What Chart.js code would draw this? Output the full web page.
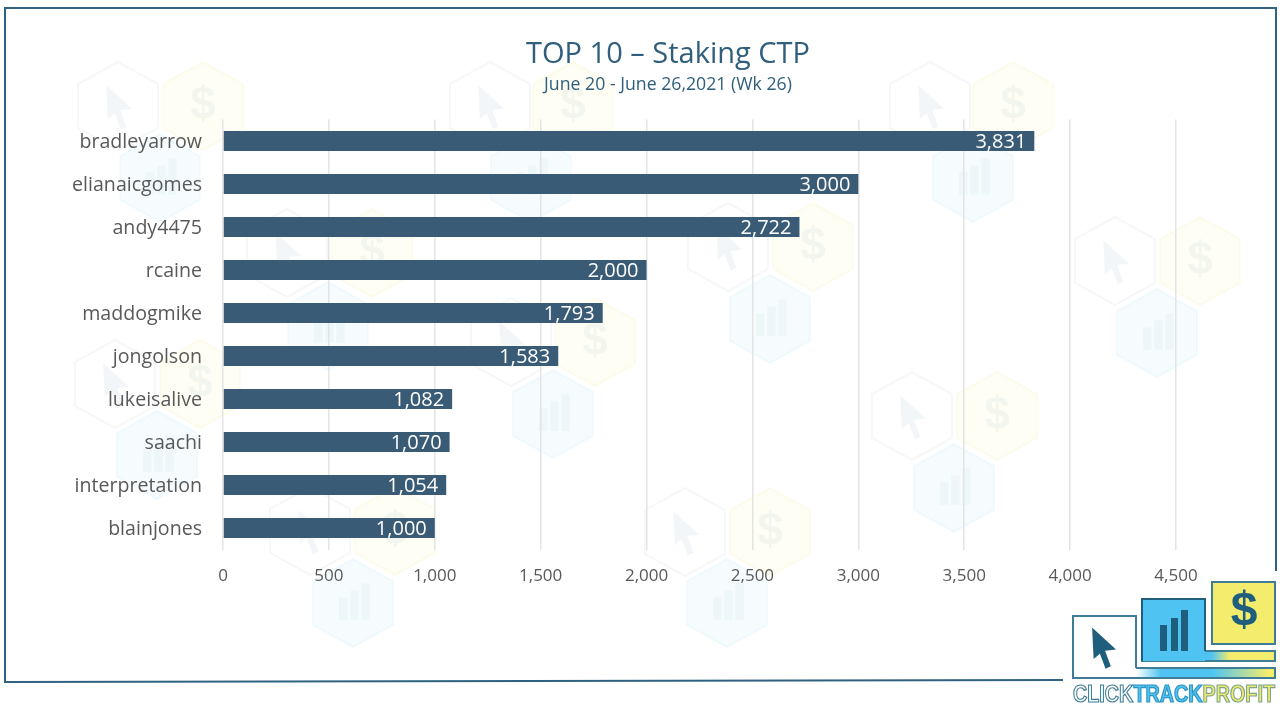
<!DOCTYPE html>
<html>
<head>
<meta charset="utf-8">
<title>TOP 10 - Staking CTP</title>
<script src="https://cdn.jsdelivr.net/npm/chart.js@4"></script>
<style>
  html, body { margin: 0; padding: 0; background: #fff; }
  canvas { display: block; }
</style>
</head>
<body>
<canvas id="chart" width="1280" height="708"></canvas>
<script>
const users = ["bradleyarrow", "elianaicgomes", "andy4475", "rcaine", "maddogmike",
               "jongolson", "lukeisalive", "saachi", "interpretation", "blainjones"];
const staked = [3831, 3000, 2722, 2000, 1793, 1583, 1082, 1070, 1054, 1000];

const titleText = "TOP 10 \u2013 Staking CTP";
const subtitleText = "June 20 - June 26,2021 (Wk 26)";

const fontName = "'Open Sans', 'Noto Sans', sans-serif";
const navy = "#3a5b75";
const teal = "#1f5f7d";

// faint logo watermark behind the chart: [arrow hex x, y, blue hex x, y, dollar hex x, y]
const watermarks = [
    [118, 106, 160, 178, 203, 106],
    [490, 106, 531, 178, 573, 106],
    [930, 106, 973, 178, 1013, 106],
    [1115, 261, 1157, 333, 1200, 261],
    [287, 253, 328, 326, 372, 253],
    [728, 247, 770, 319, 813, 247],
    [115, 384, 157, 455, 200, 384],
    [511, 342, 553, 414, 595, 342],
    [912, 416, 954, 488, 997, 416],
    [310, 531, 353, 603, 395, 531],
    [685, 532, 727, 603, 770, 532]
];

function hexPath(ctx, x, y, r) {
    ctx.beginPath();
    for (let i = 0; i < 6; i++) {
        let a = Math.PI / 3 * i + Math.PI / 2;
        ctx.lineTo(x + Math.cos(a) * r * 1.05, y + Math.sin(a) * r);
    }
    ctx.closePath();
}

function arrowPath(ctx, x, y, s) {
    ctx.beginPath();
    ctx.moveTo(x - 0.42 * s, y - 0.75 * s);
    ctx.lineTo(x + 0.5 * s, y + 0.1 * s);
    ctx.lineTo(x + 0.08 * s, y + 0.14 * s);
    ctx.lineTo(x + 0.3 * s, y + 0.74 * s);
    ctx.lineTo(x + 0.1 * s, y + 0.84 * s);
    ctx.lineTo(x - 0.12 * s, y + 0.26 * s);
    ctx.lineTo(x - 0.36 * s, y + 0.46 * s);
    ctx.closePath();
}

function barsIcon(ctx, x, y, s) {
    ctx.fillRect(x - 0.5 * s, y - 0.2 * s, 0.3 * s, 0.8 * s);
    ctx.fillRect(x - 0.1 * s, y - 0.45 * s, 0.3 * s, 1.05 * s);
    ctx.fillRect(x + 0.3 * s, y - 0.7 * s, 0.3 * s, 1.3 * s);
}

function drawWatermarks(ctx) {
    watermarks.forEach(w => {
        ctx.lineWidth = 2;
        hexPath(ctx, w[0], w[1], 44);
        ctx.strokeStyle = "rgba(150,170,180,0.09)";
        ctx.stroke();
        arrowPath(ctx, w[0], w[1], 28);
        ctx.fillStyle = "rgba(31,95,125,0.055)";
        ctx.fill();

        hexPath(ctx, w[4], w[5], 44);
        ctx.fillStyle = "rgba(245,235,110,0.07)";
        ctx.fill();
        ctx.strokeStyle = "rgba(240,230,120,0.1)";
        ctx.stroke();
        ctx.fillStyle = "rgba(31,95,125,0.05)";
        ctx.font = "bold 46px 'Liberation Sans Narrow', sans-serif";
        ctx.textAlign = "center";
        ctx.textBaseline = "middle";
        ctx.fillText("$", w[4], w[5]);

        hexPath(ctx, w[2], w[3], 44);
        ctx.fillStyle = "rgba(80,190,240,0.05)";
        ctx.fill();
        ctx.strokeStyle = "rgba(80,190,240,0.06)";
        ctx.stroke();
        ctx.fillStyle = "rgba(31,95,125,0.04)";
        barsIcon(ctx, w[2], w[3], 28);
    });
}

function drawFrame(ctx) {
    ctx.strokeStyle = "#2f6280";
    ctx.lineWidth = 2;
    ctx.beginPath();
    ctx.moveTo(1276, 571);
    ctx.lineTo(1276, 8);
    ctx.lineTo(5, 8);
    ctx.lineTo(5, 682);
    ctx.lineTo(1063, 680);
    ctx.stroke();
}

function drawLogo(ctx) {
    ctx.lineWidth = 2;
    ctx.strokeStyle = "#3f7d96";

    // white box with its band
    let g1 = ctx.createLinearGradient(1136, 0, 1275, 0);
    g1.addColorStop(0, "#ffffff");
    g1.addColorStop(0.18, "#4fc4f2");
    g1.addColorStop(0.55, "#4fc4f2");
    g1.addColorStop(0.95, "#f4ec6c");
    ctx.fillStyle = g1;
    ctx.fillRect(1136, 668, 139, 10);
    ctx.strokeRect(1073, 668, 202, 10);
    ctx.fillStyle = "#fff";
    ctx.fillRect(1073, 616, 63, 62);
    ctx.beginPath();
    ctx.moveTo(1136, 668);
    ctx.lineTo(1136, 616);
    ctx.lineTo(1073, 616);
    ctx.lineTo(1073, 678);
    ctx.lineTo(1136, 678);
    ctx.stroke();
    arrowPath(ctx, 1103, 647, 26);
    ctx.fillStyle = teal;
    ctx.fill();

    // blue box with its band
    let g2 = ctx.createLinearGradient(1205, 0, 1275, 0);
    g2.addColorStop(0.1, "#4fc4f2");
    g2.addColorStop(0.35, "#f4ec6c");
    g2.addColorStop(1, "#f4ec6c");
    ctx.fillStyle = g2;
    ctx.fillRect(1142, 651, 133, 10);
    ctx.strokeRect(1142, 651, 133, 10);
    ctx.fillStyle = "#4fc4f2";
    ctx.fillRect(1142, 599, 63, 62);
    ctx.strokeStyle = teal;
    ctx.beginPath();
    ctx.moveTo(1205, 651);
    ctx.lineTo(1205, 599);
    ctx.lineTo(1142, 599);
    ctx.lineTo(1142, 661);
    ctx.stroke();
    ctx.fillStyle = teal;
    ctx.fillRect(1160, 625, 7, 26);
    ctx.fillRect(1171, 618, 7, 33);
    ctx.fillRect(1181, 610, 7, 41);

    // yellow box
    ctx.fillStyle = "#f4ec6c";
    ctx.fillRect(1212, 582, 63, 62);
    ctx.strokeStyle = "#3f7d96";
    ctx.strokeRect(1212, 582, 63, 62);
    ctx.fillStyle = teal;
    ctx.font = "bold 48px 'Liberation Sans Narrow', 'Liberation Sans', sans-serif";
    ctx.textAlign = "center";
    ctx.textBaseline = "middle";
    ctx.fillText("$", 1244, 612);

    // wordmark
    let parts = [["CLICK", "#ffffff", "#3f7d96"], ["TRACK", "#4fc4f2", "#2c93c0"], ["PROFIT", "#f0e96c", "#7ba58c"]];
    ctx.font = "bold 23px 'Liberation Sans Narrow', 'Liberation Sans', sans-serif";
    ctx.textAlign = "left";
    ctx.textBaseline = "alphabetic";
    ctx.lineWidth = 1.2;
    let total = parts.reduce((sum, p) => sum + ctx.measureText(p[0]).width, 0);
    ctx.save();
    ctx.translate(1073, 702);
    ctx.scale(202 / total, 1);
    let x = 0;
    parts.forEach(p => {
        ctx.fillStyle = p[1];
        ctx.strokeStyle = p[2];
        ctx.fillText(p[0], x, 0);
        ctx.strokeText(p[0], x, 0);
        x += ctx.measureText(p[0]).width;
    });
    ctx.restore();
}

const backdrop = {
    id: "backdrop",
    // tick labels are clipped to the axis box, so open it up to the canvas edge
    afterLayout(chart) {
        chart.scales.y.left = 0;
    },
    beforeDraw(chart) {
        let ctx = chart.ctx;
        ctx.save();
        ctx.fillStyle = "#fff";
        ctx.fillRect(0, 0, chart.width, chart.height);
        drawWatermarks(ctx);
        drawFrame(ctx);
        ctx.restore();
    },
    afterDraw(chart) {
        let ctx = chart.ctx;
        ctx.save();
        drawLogo(ctx);
        ctx.restore();
    }
};

// value labels sit inside the end of each bar
const barLabels = {
    id: "barLabels",
    afterDatasetsDraw(chart) {
        let ctx = chart.ctx;
        ctx.save();
        ctx.fillStyle = "#fff";
        ctx.font = "20px " + fontName;
        ctx.textAlign = "right";
        ctx.textBaseline = "middle";
        chart.getDatasetMeta(0).data.forEach((bar, i) => {
            ctx.fillText(staked[i].toLocaleString("en-US"), bar.x - 8, bar.y + 1);
        });
        ctx.restore();
    }
};

new Chart(document.getElementById("chart"), {
    type: "bar",
    data: {
        labels: users,
        datasets: [{
            data: staked,
            backgroundColor: navy,
            barPercentage: 0.47,
            categoryPercentage: 1
        }]
    },
    options: {
        indexAxis: "y",
        responsive: false,
        animation: false,
        devicePixelRatio: 1,
        // left padding keeps the title centred at x=668 like the original
        layout: { padding: { left: 160, right: 104 } },
        plugins: {
            legend: { display: false },
            tooltip: { enabled: false },
            title: {
                display: true,
                text: titleText,
                color: "#2f5f7d",
                font: { family: fontName, size: 29, weight: "normal" },
                padding: { top: 37, bottom: 0 }
            },
            subtitle: {
                display: true,
                text: subtitleText,
                color: "#2f5f7d",
                font: { family: fontName, size: 17.7, weight: "normal" },
                padding: { top: 2.6, bottom: 23.86 }
            }
        },
        scales: {
            x: {
                min: 0,
                max: 4500,
                afterFit(axis) { axis.height = 158.5; },
                border: { display: false },
                grid: { color: "#e4e4e4", lineWidth: 1.5, drawTicks: false },
                ticks: {
                    stepSize: 500,
                    padding: 16,
                    maxRotation: 0,
                    color: "#595959",
                    font: { family: fontName, size: 17 },
                    callback: v => v.toLocaleString("en-US")
                }
            },
            y: {
                afterFit(axis) { axis.width = 63; },
                border: { display: false },
                grid: { display: false, drawTicks: false },
                ticks: {
                    padding: 21,
                    labelOffset: 1,
                    color: "#595959",
                    font: { family: fontName, size: 19.6 }
                }
            }
        }
    },
    plugins: [backdrop, barLabels]
});
</script>
</body>
</html>
